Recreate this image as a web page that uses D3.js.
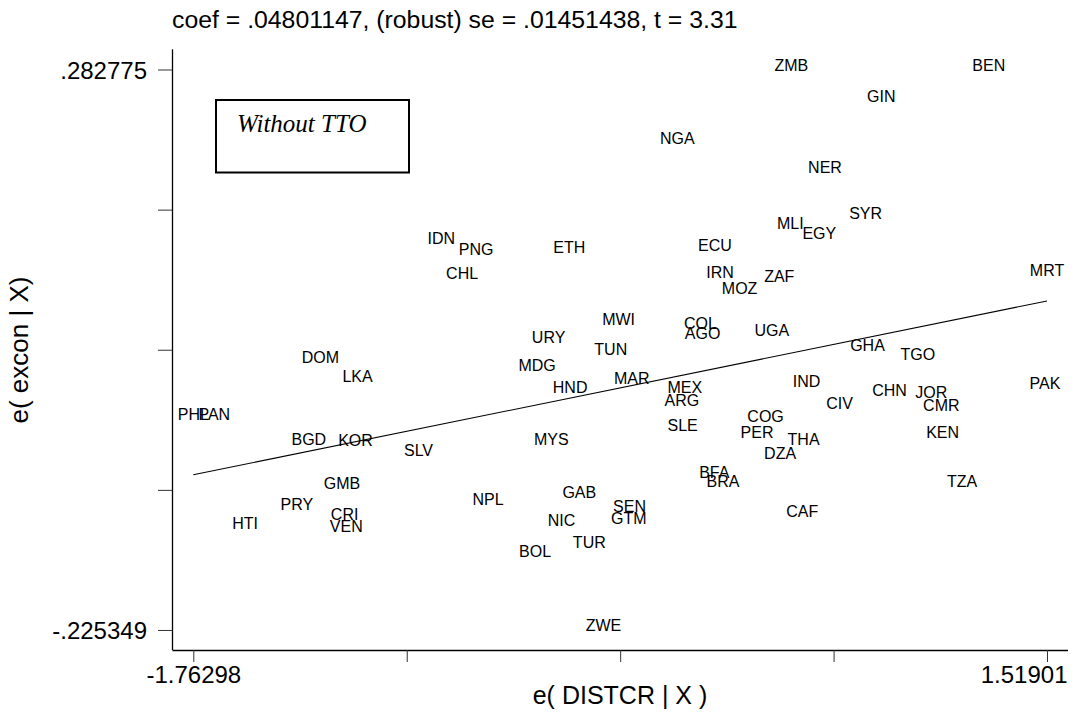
<!DOCTYPE html>
<html><head><meta charset="utf-8">
<script src="https://cdn.jsdelivr.net/npm/d3@7"></script>
<style>body{margin:0;background:#fff}svg{display:block}</style>
</head><body>
<script>
const countries = ["ZMB","BEN","GIN","NGA","NER","SYR","MLI","EGY","ZAF","MRT","IDN","PNG","ETH","CHL","ECU","IRN","MOZ","DOM","LKA","PHL","PAN","BGD","KOR","SLV","GMB","PRY","HTI","CRI","VEN","MWI","URY","TUN","COL","AGO","UGA","MDG","HND","MAR","MEX","ARG","SLE","COG","PER","DZA","MYS","BFA","BRA","GAB","SEN","GTM","NIC","NPL","BOL","TUR","ZWE","CAF","IND","CIV","THA","GHA","TGO","CHN","JOR","CMR","PAK","KEN","TZA"];
const distcr = [0.5359,1.2952,0.8819,0.0977,0.6655,0.8216,0.5321,0.6436,0.4898,1.51901,-0.8096,-0.6758,-0.3175,-0.7296,0.2426,0.2622,0.3372,-1.2748,-1.1314,-1.76298,-1.6823,-1.3190,-1.1394,-0.8972,-1.1913,-1.3651,-1.5639,-1.1813,-1.1748,-0.1280,-0.3971,-0.1580,0.1869,0.1950,0.4610,-0.4413,-0.3144,-0.0772,0.1265,0.1150,0.1181,0.4371,0.4041,0.4929,-0.3867,0.2399,0.2734,-0.2791,-0.0861,-0.0888,-0.3475,-0.6301,-0.4490,-0.2406,-0.1860,0.5782,0.5948,0.7216,0.5832,0.8289,1.0223,0.9135,1.0742,1.1126,1.5113,1.1176,1.1926];
const excon = [0.282775,0.282775,0.2544,0.2157,0.1903,0.1482,0.1395,0.1302,0.0912,0.0965,0.1259,0.1151,0.1169,0.0939,0.1187,0.0947,0.0802,0.0176,0.0002,-0.0338,-0.0338,-0.0565,-0.0572,-0.0670,-0.0964,-0.1154,-0.1329,-0.1245,-0.1356,0.0522,0.0357,0.0247,0.0487,0.0398,0.0418,0.0106,-0.0098,-0.0017,-0.0098,-0.0214,-0.0443,-0.0361,-0.0504,-0.0694,-0.0569,-0.0866,-0.0950,-0.1052,-0.1173,-0.1282,-0.1304,-0.1107,-0.1584,-0.1501,-0.225349,-0.1216,-0.0044,-0.0241,-0.0565,0.0282,0.0203,-0.0123,-0.0139,-0.0259,-0.0062,-0.0507,-0.0951];
const coef = 0.04801147, intercept = 0;
const titleText = "coef = .04801147, (robust) se = .01451438, t = 3.31";
const xTickLabels = ["-1.76298","","","","1.51901"];
const yTickLabels = ["-.225349","","","",".282775"];
const xMin = -1.76298, xMax = 1.51901, yMin = -0.225349, yMax = 0.282775;
const legendText = "Without TTO";
const xTitle = "e( DISTCR | X )", yTitle = "e( excon | X)";

const SANS = "'Liberation Sans', Arial, sans-serif";
const SERIF = "'Liberation Serif', 'Times New Roman', serif";
const W = 1075, H = 716;
const svg = d3.select("body").append("svg").attr("width", W).attr("height", H)
  .style("font-family", SANS);
const x = d3.scaleLinear().domain([-1.8449, 1.5997]).range([172, 1068]);
const y = d3.scaleLinear().domain([-0.2435, 0.3011]).range([650, 49.3]);

const xTicks = d3.range(5).map(i => xMin + i*(xMax-xMin)/4);
const yTicks = d3.range(5).map(i => yMin + i*(yMax-yMin)/4);

// axes
const xAxis = svg.append("g").attr("transform","translate(0,650)")
  .call(d3.axisBottom(x).tickValues(xTicks).tickSize(12).tickFormat((d,i)=>xTickLabels[i]));
const yAxis = svg.append("g").attr("transform","translate(172,0)")
  .call(d3.axisLeft(y).tickValues(yTicks).tickSize(14).tickFormat((d,i)=>yTickLabels[i]));
[xAxis,yAxis].forEach(g=>{
  g.attr("font-family", null).attr("font-size", null);
  g.select(".domain").attr("stroke","#000").attr("stroke-width",1.3);
  g.selectAll(".tick line").attr("stroke","#333").attr("stroke-width",1);
  g.selectAll(".tick text").style("font-size","24px").style("font-family",SANS).attr("fill","#000");
});
xAxis.select(".domain").attr("d","M172.5,0.5H1068");
yAxis.select(".domain").attr("d","M0.5,49.3V650");
xAxis.selectAll(".tick text").attr("dy","0.76em");
xAxis.selectAll(".tick").filter((d,i)=>i===4).select("text").attr("text-anchor","end").attr("x",20);
yAxis.selectAll(".tick text").attr("x",-25).attr("dy","0.36em");

// title
svg.append("text").attr("x",172).attr("y",28).style("font-size","24.8px").text(titleText);
// axis titles
svg.append("text").attr("x",620).attr("y",704).attr("text-anchor","middle").style("font-size","25px").text(xTitle);
svg.append("text").attr("transform","translate(28,350) rotate(-90)").attr("text-anchor","middle").style("font-size","26px").text(yTitle);

// fit line
const xd = d3.extent(distcr);
svg.append("line")
  .attr("x1",x(xd[0])).attr("y1",y(intercept+coef*xd[0]))
  .attr("x2",x(xd[1])).attr("y2",y(intercept+coef*xd[1]))
  .attr("stroke","#000").attr("stroke-width",1.1);

// labels
svg.append("g").selectAll("text").data(countries).join("text")
  .attr("x",(d,i)=>x(distcr[i]))
  .attr("y",(d,i)=>y(excon[i]))
  .attr("dy",1)
  .attr("text-anchor","middle")
  .style("font-size","16px")
  .text(d=>d);

// legend box
svg.append("rect").attr("x",216).attr("y",100).attr("width",193).attr("height",72.5)
  .attr("fill","none").attr("stroke","#000").attr("stroke-width",2);
svg.append("text").attr("x",237).attr("y",132).style("font-size","25px")
  .style("font-family",SERIF).style("font-style","italic").text(legendText);
</script>
</body></html>
